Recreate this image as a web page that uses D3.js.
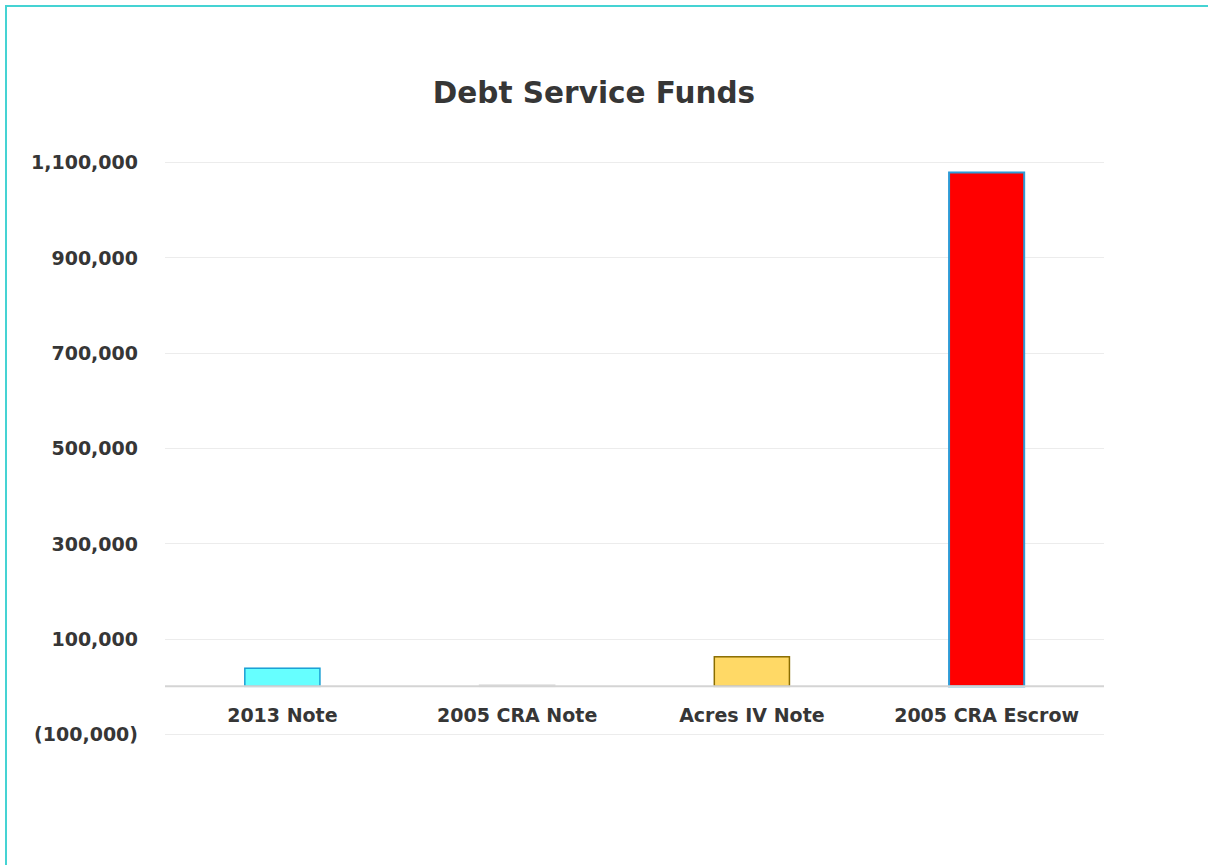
<!DOCTYPE html>
<html>
<head>
<meta charset="utf-8">
<script src="https://cdn.jsdelivr.net/npm/d3@7"></script>
<style>
  html, body { margin: 0; padding: 0; background: #fff; }
  svg { display: block; }
</style>
</head>
<body>
<svg id="chart" width="1208" height="865"></svg>
<script>
// Fund balances by debt service fund
const categories = ["2013 Note", "2005 CRA Note", "Acres IV Note", "2005 CRA Escrow"];
const values = [38000, 2500, 62000, 1078000];
const fillColors = ["#66ffff", "#d9d9d9", "#ffd966", "#ff0000"];
const strokeColors = ["#1a9fd4", "#d9d9d9", "#8a6d00", "#2e9bd6"];
const yTicks = [-100000, 100000, 300000, 500000, 700000, 900000, 1100000];
const title = "Debt Service Funds";

const svg = d3.select("#chart");
const W = 1208, H = 865;
const FONT = "'DejaVu Sans', Verdana, sans-serif";
const TEXT = "#363636";

// Frame: cyan rule along the top and left edges
svg.append("path")
  .attr("d", `M6,${H} L6,6 L${W},6`)
  .attr("fill", "none")
  .attr("stroke", "#45d3d3")
  .attr("stroke-width", 2);

const plot = { left: 165, right: 1104, top: 162, bottom: 734 };

const x = d3.scaleBand()
  .domain(categories)
  .range([plot.left, plot.right])
  .paddingInner(0.68)
  .paddingOuter(0.34);

const y = d3.scaleLinear()
  .domain([-100000, 1100000])
  .range([plot.bottom, plot.top]);

const fmt = v => {
  const s = d3.format(",")(Math.abs(v));
  return v < 0 ? `(${s})` : s;
};

// Gridlines
svg.append("g")
  .selectAll("line")
  .data(yTicks)
  .join("line")
  .attr("x1", plot.left)
  .attr("x2", plot.right)
  .attr("y1", d => Math.round(y(d)) + 0.5)
  .attr("y2", d => Math.round(y(d)) + 0.5)
  .attr("stroke", "#ececec")
  .attr("stroke-width", 1);

// Y axis labels
const yAxis = d3.axisLeft(y).tickValues(yTicks).tickFormat(fmt).tickSize(0).tickPadding(0);
const yg = svg.append("g")
  .attr("transform", `translate(138,0)`)
  .call(yAxis);
yg.select(".domain").remove();
yg.selectAll("text")
  .attr("fill", TEXT)
  .attr("font-family", FONT)
  .attr("font-weight", "bold")
  .attr("font-size", 19)
  .attr("dy", "0.36em");

// Bars
svg.append("g")
  .selectAll("rect")
  .data(values)
  .join("rect")
  .attr("x", (d, i) => x(categories[i]))
  .attr("width", x.bandwidth())
  .attr("y", d => y(Math.max(0, d)))
  .attr("height", d => Math.abs(y(d) - y(0)))
  .attr("fill", (d, i) => fillColors[i])
  .attr("stroke", (d, i) => strokeColors[i])
  .attr("stroke-width", (d, i) => i === 3 ? 2 : 1.5);

// Zero baseline
svg.append("line")
  .attr("x1", plot.left)
  .attr("x2", plot.right)
  .attr("y1", y(0))
  .attr("y2", y(0))
  .attr("stroke", "#d4d4d4")
  .attr("stroke-width", 2);

// Category labels
const xAxis = d3.axisBottom(x).tickSize(0).tickPadding(0);
const xg = svg.append("g")
  .attr("transform", `translate(0,722)`)
  .call(xAxis);
xg.select(".domain").remove();
xg.selectAll("text")
  .attr("dy", 0)
  .attr("fill", TEXT)
  .attr("font-family", FONT)
  .attr("font-weight", "bold")
  .attr("font-size", 19);

// Title
svg.append("text")
  .attr("x", 594)
  .attr("y", 103)
  .attr("text-anchor", "middle")
  .attr("fill", TEXT)
  .attr("font-family", FONT)
  .attr("font-weight", "bold")
  .attr("font-size", 29.5)
  .text(title);
</script>
</body>
</html>
